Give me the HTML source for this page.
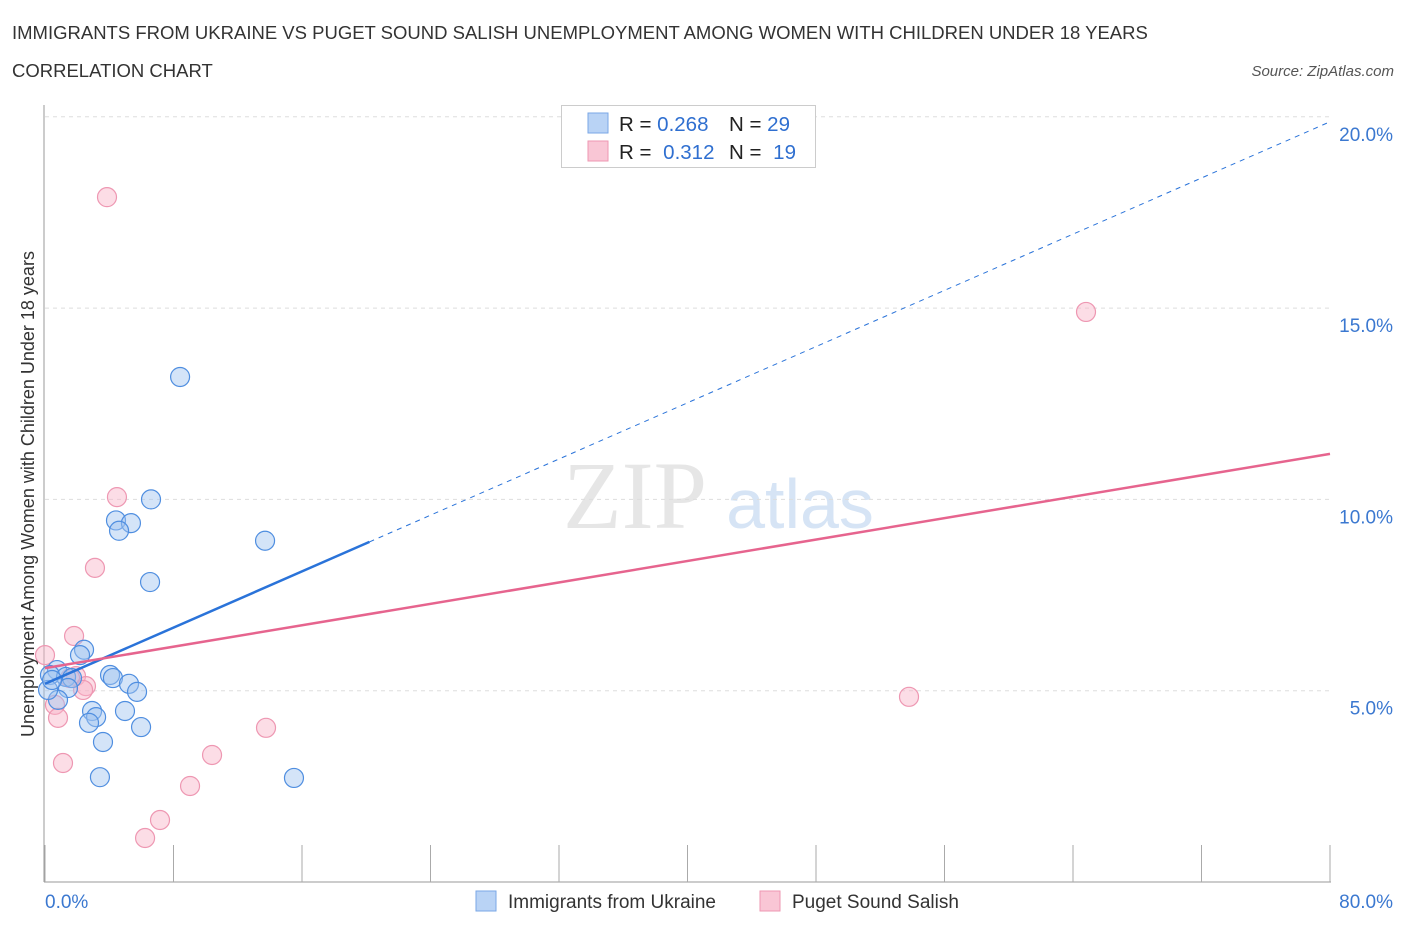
<!DOCTYPE html>
<html><head><meta charset="utf-8">
<style>
body{margin:0;background:#fff;font-family:"Liberation Sans",sans-serif;}
svg{display:block}
</style></head>
<body>
<svg id="chart" width="1406" height="930">
<text x="12" y="39" font-size="18.5" fill="#333">IMMIGRANTS FROM UKRAINE VS PUGET SOUND SALISH UNEMPLOYMENT AMONG WOMEN WITH CHILDREN UNDER 18 YEARS</text>
<text x="12" y="77" font-size="18.5" fill="#333">CORRELATION CHART</text>
<text x="1394" y="76" font-size="15" fill="#555" font-style="italic" text-anchor="end">Source: ZipAtlas.com</text>
<text x="635" y="528" font-size="96" fill="#e6e6e6" font-family="Liberation Serif" text-anchor="middle">ZIP</text>
<text x="800" y="528" font-size="70" fill="#d6e4f5" text-anchor="middle">atlas</text>
<g id="grid"></g>
<g id="axes"></g>
<g id="marks"></g>
<text transform="translate(34,494) rotate(-90)" font-size="18" fill="#333" text-anchor="middle">Unemployment Among Women with Children Under 18 years</text>
<g>
<rect x="561.5" y="105.5" width="254" height="62" fill="#fff" stroke="#ccc"/>
<rect x="588" y="113" width="20" height="20" fill="#b9d3f5" stroke="#7aa7e6"/>
<rect x="588" y="141" width="20" height="20" fill="#f9c6d5" stroke="#ee97b2"/>
<text x="619" y="131" font-size="20.5" fill="#222">R = <tspan fill="#2f6fd0">0.268</tspan></text>
<text x="729" y="131" font-size="20.5" fill="#222">N = <tspan fill="#2f6fd0">29</tspan></text>
<text x="619" y="159" font-size="20.5" fill="#222">R = <tspan fill="#2f6fd0" dx="6">0.312</tspan></text>
<text x="729" y="159" font-size="20.5" fill="#222">N = <tspan fill="#2f6fd0" dx="6">19</tspan></text>
</g>
<g>
<rect x="476" y="891" width="20" height="20" fill="#b9d3f5" stroke="#7aa7e6"/>
<text x="508" y="908" font-size="19" fill="#333">Immigrants from Ukraine</text>
<rect x="760" y="891" width="20" height="20" fill="#f9c6d5" stroke="#ee97b2"/>
<text x="792" y="908" font-size="19" fill="#333">Puget Sound Salish</text>
</g>
</svg>
<script>
const yTicks=[5,10,15,20];
const xTickLabels=["0.0%","80.0%"];
const blueX=[8.41,6.60,4.42,5.35,4.61,13.70,6.54,2.43,2.18,0.75,0.31,1.31,1.68,4.05,4.23,5.23,5.73,1.43,0.81,2.93,3.18,4.98,2.74,5.98,3.61,3.42,15.50,0.19,0.44];
const blueY=[13.2,10.0,9.45,9.38,9.18,8.92,7.84,6.07,5.93,5.54,5.41,5.36,5.33,5.41,5.33,5.18,4.97,5.07,4.76,4.47,4.31,4.47,4.16,4.05,3.66,2.74,2.72,5.02,5.28];
const pinkX=[3.86,64.81,4.48,3.11,1.81,0,1.93,1.56,2.55,2.37,0.62,0.81,53.79,13.76,10.40,1.12,9.03,7.16,6.23];
const pinkY=[17.9,14.9,10.06,8.21,6.43,5.93,5.38,5.33,5.12,5.02,4.63,4.29,4.84,4.03,3.32,3.11,2.51,1.62,1.15];
const blueTrend=[5.18,19.87];
const pinkTrend=[5.59,11.19];
const blueSolidEnd=20.2;
const NS="http://www.w3.org/2000/svg";
const X=v=>45+v/80*1285, Y=v=>882-v*38.26;
function mk(tag,attrs,parent){const e=document.createElementNS(NS,tag);for(const k in attrs)e.setAttribute(k,attrs[k]);parent.appendChild(e);return e;}
const grid=document.getElementById('grid'),axes=document.getElementById('axes'),marks=document.getElementById('marks');
yTicks.forEach(t=>{
 const l=mk('line',{x1:45,x2:1330,y1:Y(t),y2:Y(t),stroke:'#ddd','stroke-dasharray':'4,4'},grid);
 
 
 const tx=mk('text',{x:1393,y:Y(t)+24,'font-size':19,fill:'#3b78d0','text-anchor':'end'},axes);
 tx.textContent=t.toFixed(1)+'%';
 
 
});
const ax=mk('line',{x1:44,x2:44,y1:105,y2:882,stroke:'#999'},axes);


const bx=mk('line',{x1:44,x2:1331,y1:882,y2:882,stroke:'#999'},axes);


for(let i=0;i<=10;i++){
 const t=mk('line',{x1:X(i*8),x2:X(i*8),y1:845,y2:882,stroke:'#aaa'},axes);
 
 
}
[[0,45,'start'],[80,1393,'end']].forEach((d,i)=>{
 const t=mk('text',{x:d[1],y:908,'font-size':19,fill:'#3b78d0','text-anchor':d[2]},axes);
 t.textContent=xTickLabels[i];
 
 
});
function pt(x,y,fill,stroke,name){
 const c=mk('circle',{cx:X(x),cy:Y(y),r:9.5,fill:fill,stroke:stroke,'stroke-width':1.2},marks);
 
 
}
pinkX.forEach((x,i)=>pt(x,pinkY[i],'rgba(248,180,200,0.45)','#ee97b2','point-puget-sound-salish'));
blueX.forEach((x,i)=>pt(x,blueY[i],'rgba(160,195,240,0.45)','#4f8ee0','point-ukraine'));
const by=x=>blueTrend[0]+(blueTrend[1]-blueTrend[0])*x/80;
const l1=mk('line',{x1:X(0),y1:Y(by(0)),x2:X(blueSolidEnd),y2:Y(by(blueSolidEnd)),stroke:'#2a73d9','stroke-width':2.5},marks);


const l2=mk('line',{x1:X(blueSolidEnd),y1:Y(by(blueSolidEnd)),x2:X(80),y2:Y(by(80)),stroke:'#2a73d9','stroke-width':1,'stroke-dasharray':'5,5'},marks);


const l3=mk('line',{x1:X(0),y1:Y(pinkTrend[0]),x2:X(80),y2:Y(pinkTrend[1]),stroke:'#e6648e','stroke-width':2.5},marks);


</script>
</body></html>
